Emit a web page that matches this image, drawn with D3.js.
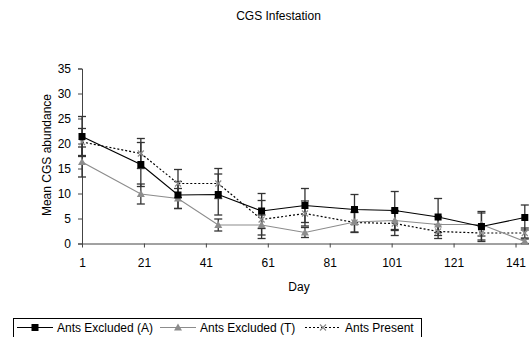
<!DOCTYPE html>
<html>
<head>
<meta charset="utf-8">
<script src="https://cdn.jsdelivr.net/npm/d3@7"></script>
<style>
  body { margin: 0; background: #fff; }
  text { font-family: "Liberation Sans", Arial, sans-serif; }
</style>
</head>
<body>
<script>
const WIDTH = 529
const HEIGHT = 337

// data
const days = [1, 20, 32, 45, 59, 73, 89, 102, 116, 130, 144]
const antsExcludedA = [21.4, 15.8, 9.7, 9.8, 6.5, 7.6, 6.8, 6.6, 5.3, 3.4, 5.2]
const errA = [4.0, 4.4, 2.7, 4.1, 3.5, 3.4, 3.0, 3.8, 3.7, 3.0, 2.5]
const antsExcludedT = [16.3, 9.9, 9.0, 3.7, 3.7, 2.2, 4.3, 4.6, 3.8, 3.8, 0.4]
const errT = [3.0, 2.0, 2.0, 1.2, 2.0, 1.0, 2.0, 2.0, 1.6, 2.3, 0.5]
const antsPresent = [20.3, 18.0, 12.0, 12.0, 4.8, 6.0, 4.2, 4.0, 2.4, 2.1, 2.1]
const errP = [2.7, 3.0, 2.8, 3.0, 3.8, 2.5, 2.0, 2.4, 1.4, 1.4, 1.0]
const xTicks = [1, 21, 41, 61, 81, 101, 121, 141]
const yTicks = [0, 5, 10, 15, 20, 25, 30, 35]
const seriesNames = ["Ants Excluded (A)", "Ants Excluded (T)", "Ants Present"]

const series = [
    { name: seriesNames[0], values: antsExcludedA, err: errA, color: "#000", dash: null, marker: "square", markerColor: "#000" },
    { name: seriesNames[1], values: antsExcludedT, err: errT, color: "#8c8c8c", dash: null, marker: "triangle", markerColor: "#8c8c8c" },
    { name: seriesNames[2], values: antsPresent, err: errP, color: "#000", dash: "2,2", marker: "cross", markerColor: "#8c8c8c" }
]

const svg = d3.select("body")
    .append("svg")
    .attr("width", WIDTH)
    .attr("height", HEIGHT)

const x = d3.scaleLinear().domain([1, 146]).range([82, 531])
const y = d3.scaleLinear().domain([0, 35]).range([243.5, 68.5])

// titre
svg.append("text")
    .text("CGS Infestation")
    .attr("x", 278.5)
    .attr("y", 20)
    .attr("text-anchor", "middle")
    .attr("font-size", 12)

// axes
svg.append("g")
    .attr("transform", "translate(82,0)")
    .call(d3.axisLeft(y).tickValues(yTicks).tickSize(4).tickPadding(7))
svg.append("g")
    .attr("transform", "translate(0,243.5)")
    .call(d3.axisBottom(x).tickValues(xTicks).tickSize(4).tickPadding(11).tickSizeOuter(0))

svg.selectAll(".domain, .tick line").attr("stroke", "#444")
svg.selectAll(".tick text").attr("font-size", 12).attr("fill", "#000").attr("font-family", "Liberation Sans, Arial, sans-serif")

svg.append("text")
    .text("Day")
    .attr("x", 299)
    .attr("y", 290.5)
    .attr("text-anchor", "middle")
    .attr("font-size", 12)

svg.append("text")
    .text("Mean CGS abundance")
    .attr("transform", "translate(50.5,155) rotate(-90)")
    .attr("text-anchor", "middle")
    .attr("font-size", 12)

// marqueurs
function drawMarker(g, type, color, cx, cy) {
    if (type === "square") {
        g.append("rect").attr("x", cx - 3.5).attr("y", cy - 3.5).attr("width", 7).attr("height", 7).attr("fill", color)
    } else if (type === "triangle") {
        g.append("path").attr("d", `M${cx},${cy - 4}L${cx + 4},${cy + 3}L${cx - 4},${cy + 3}Z`).attr("fill", color)
    } else {
        g.append("path").attr("d", `M${cx - 3},${cy - 3}L${cx + 3},${cy + 3}M${cx - 3},${cy + 3}L${cx + 3},${cy - 3}`)
            .attr("stroke", color).attr("stroke-width", 1.2)
    }
}

const plot = svg.append("g")

// barres d'erreur
series.forEach(s => {
    const g = plot.append("g")
    s.values.forEach((v, i) => {
        const cx = x(days[i])
        const top = y(v + s.err[i])
        const bot = y(Math.max(0, v - s.err[i]))
        g.append("line").attr("x1", cx).attr("x2", cx).attr("y1", top).attr("y2", bot).attr("stroke", "#333").attr("stroke-width", 1.3)
        g.append("line").attr("x1", cx - 4).attr("x2", cx + 4).attr("y1", top).attr("y2", top).attr("stroke", "#333").attr("stroke-width", 1.3)
        g.append("line").attr("x1", cx - 4).attr("x2", cx + 4).attr("y1", bot).attr("y2", bot).attr("stroke", "#333").attr("stroke-width", 1.3)
    })
})

// lignes + marqueurs
series.slice().reverse().forEach(s => {
    const line = d3.line().x((d, i) => x(days[i])).y(d => y(d))
    plot.append("path")
        .datum(s.values)
        .attr("d", line)
        .attr("fill", "none")
        .attr("stroke", s.color)
        .attr("stroke-width", 1.2)
        .attr("stroke-dasharray", s.dash)
    const g = plot.append("g")
    s.values.forEach((v, i) => drawMarker(g, s.marker, s.markerColor, x(days[i]), y(v)))
})

// légende
const legend = svg.append("g")
legend.append("rect")
    .attr("x", 13.5).attr("y", 318.5).attr("width", 408).attr("height", 30)
    .attr("fill", "#fff").attr("stroke", "#000")

const legendX = [17, 160, 305]
series.forEach((s, i) => {
    const lx = legendX[i]
    legend.append("line")
        .attr("x1", lx).attr("x2", lx + 36).attr("y1", 327.5).attr("y2", 327.5)
        .attr("stroke", s.color).attr("stroke-width", 1.2).attr("stroke-dasharray", s.dash)
    drawMarker(legend, s.marker, s.markerColor, lx + 18, 327.5)
    legend.append("text")
        .text(s.name)
        .attr("x", lx + 40)
        .attr("y", 331.5)
        .attr("font-size", 12)
})
</script>
</body>
</html>
